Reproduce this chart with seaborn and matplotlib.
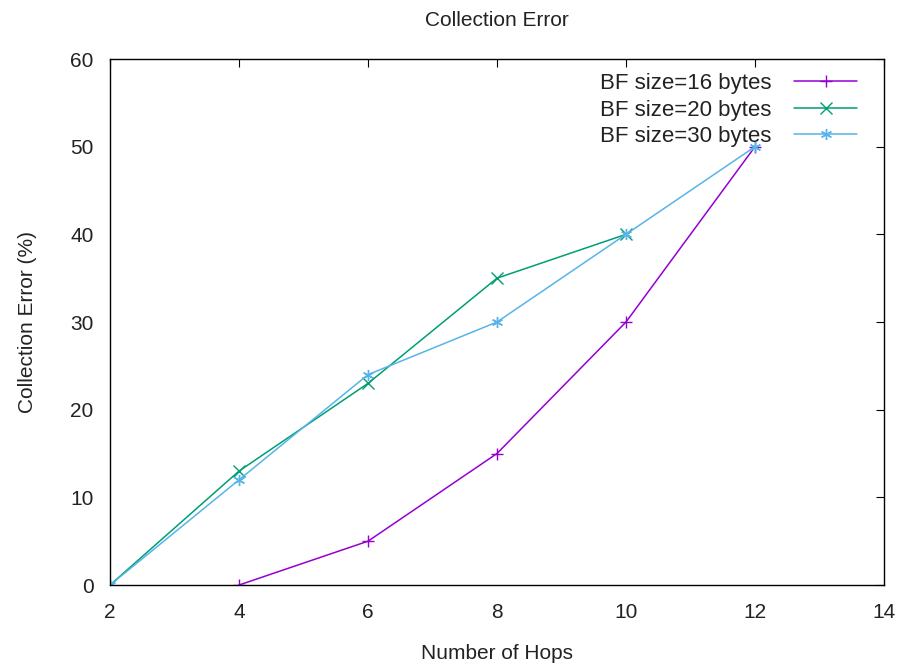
import pandas as pd
import seaborn as sns
import matplotlib.pyplot as plt

hops_16 = [4, 6, 8, 10, 12]
err_16 = [0, 5, 15, 30, 50]
hops_20 = [2, 4, 6, 8, 10]
err_20 = [0, 13, 23, 35, 40]
hops_30 = [2, 4, 6, 8, 10, 12]
err_30 = [0, 12, 24, 30, 40, 50]
labels = ['BF size=16 bytes', 'BF size=20 bytes', 'BF size=30 bytes']

df = pd.concat([
    pd.DataFrame({'hops': hops_16, 'err': err_16, 'series': labels[0]}),
    pd.DataFrame({'hops': hops_20, 'err': err_20, 'series': labels[1]}),
    pd.DataFrame({'hops': hops_30, 'err': err_30, 'series': labels[2]}),
])

sns.set_style('white')
plt.rcParams['font.family'] = ['Liberation Sans', 'DejaVu Sans']

fig = plt.figure(figsize=(9.02, 6.66), dpi=100)
ax = fig.add_axes([0.122, 0.1216, 0.858, 0.7898])

colors = ['#9400d3', '#009e73', '#56b4e9']
markers = ['+', 'x', (6, 2, 0)]
for lab, c, m in zip(labels, colors, markers):
    sub = df[df['series'] == lab]
    sns.lineplot(data=sub, x='hops', y='err', ax=ax, color=c, marker=m,
                 markersize=8, markeredgewidth=1.0, markeredgecolor=c,
                 linewidth=1.1, label=lab)

ax.set_xlim(2, 14)
ax.set_ylim(0, 60)
ax.set_xticks(range(2, 15, 2))
ax.set_yticks(range(0, 61, 10))
ax.tick_params(direction='in', length=6, top=True, right=True,
               labelsize=15, color='black', labelcolor='#222222')
ax.tick_params(axis='x', pad=13)
ax.tick_params(axis='y', pad=12)
for s in ax.spines.values():
    s.set_color('black')
    s.set_linewidth(1)

ax.set_title('Collection Error', fontsize=15, pad=24, color='#222222')
ax.set_xlabel('Number of Hops', fontsize=15, labelpad=16, color='#222222')
ax.set_ylabel('Collection Error (%)', fontsize=15, labelpad=24, color='#222222')

leg = ax.legend(loc='upper right', frameon=False, markerfirst=False, fontsize=16,
                handlelength=2.85, borderaxespad=0.0, labelspacing=0.25,
                handletextpad=1.0, bbox_to_anchor=(0.977, 0.99))
for t in leg.get_texts():
    t.set_color('#222222')

fig.savefig('out.png', dpi=100)
